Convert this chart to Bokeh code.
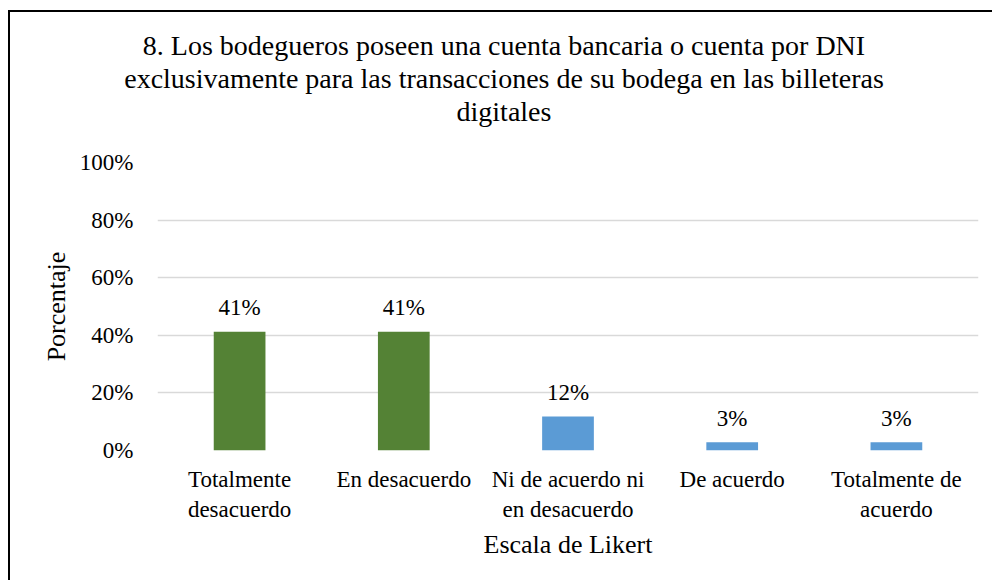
from bokeh.plotting import figure
from bokeh.models import (FactorRange, Range1d, FixedTicker, PrintfTickFormatter,
                          ColumnDataSource, LabelSet, Title)
from bokeh.core.properties import value
from bokeh.embed import file_html
from bokeh.resources import INLINE

# ---- data ----
categories = ["Totalmente\ndesacuerdo", "En desacuerdo", "Ni de acuerdo ni\nen desacuerdo",
              "De acuerdo", "Totalmente de\nacuerdo"]
percentages = [41.2, 41.2, 11.8, 2.9, 2.9]
bar_colors = ["#548235", "#548235", "#5B9BD5", "#5B9BD5", "#5B9BD5"]
y_ticks = [0, 20, 40, 60, 80, 100]
title_lines = ["8. Los bodegueros poseen una cuenta bancaria o cuenta por DNI",
               "exclusivamente para las transacciones de su bodega en las billeteras",
               "digitales"]
x_title = "Escala de Likert"
y_title = "Porcentaje"

FONT = "Liberation Serif"

src = ColumnDataSource(dict(
    cat=categories,
    pct=percentages,
    color=bar_colors,
    lbl=[f"{round(v)}%" for v in percentages],
))

p = figure(x_range=FactorRange(factors=categories, range_padding=0),
           y_range=Range1d(0, 100),
           width=984, height=570,
           output_backend="svg", toolbar_location=None,
           min_border_left=147, min_border_right=16,
           min_border_top=150, min_border_bottom=132)
p.styles = {"border-top": "2px solid black", "border-left": "2px solid black",
            "margin-top": "10px", "margin-left": "8px"}

p.background_fill_color = "white"
p.border_fill_color = "white"
p.outline_line_color = None

p.vbar(x="cat", top="pct", width=0.315, fill_color="color", line_color=None, source=src)

labels = LabelSet(x="cat", y="pct", text="lbl", source=src, y_offset=24,
                  text_align="center", text_baseline="middle",
                  text_font=value(FONT), text_font_size=value("23px"), text_color="black")
p.add_layout(labels)

# title: one Title per line, stacked above the frame (closest line first)
def make_title(txt, standoff, pad_bottom=0):
    return Title(text=txt, align="center", standoff=standoff,
                 padding=dict(left=0, right=128, top=0, bottom=pad_bottom),
                 text_font=FONT, text_font_size="28px", text_font_style="normal",
                 text_color="black")

p.title = make_title(title_lines[0], 0)
p.add_layout(make_title(title_lines[2], 0, pad_bottom=36), "above")
p.add_layout(make_title(title_lines[1], 0), "above")

# grid
p.xgrid.visible = False
p.ygrid.grid_line_color = "#d9d9d9"
p.ygrid.grid_line_width = 1.3

# y axis
p.yaxis.ticker = FixedTicker(ticks=y_ticks)
p.yaxis.formatter = PrintfTickFormatter(format="%d%%")
p.yaxis.axis_line_color = None
p.yaxis.major_tick_line_color = None
p.yaxis.minor_tick_line_color = None
p.yaxis.major_label_text_font = FONT
p.yaxis.major_label_text_font_size = "23px"
p.yaxis.major_label_text_color = "black"
p.yaxis.major_label_standoff = 18
p.yaxis.axis_label = y_title
p.yaxis.axis_label_text_font = FONT
p.yaxis.axis_label_text_font_size = "26px"
p.yaxis.axis_label_text_font_style = "normal"
p.yaxis.axis_label_text_color = "black"
p.yaxis.axis_label_standoff = 6

# x axis
p.xaxis.axis_line_color = None
p.xaxis.major_tick_line_color = None
p.xaxis.minor_tick_line_color = None
p.xaxis.major_label_text_font = FONT
p.xaxis.major_label_text_font_size = "23px"
p.xaxis.major_label_text_color = "black"
p.xaxis.major_label_text_line_height = 1.2
p.xaxis.major_label_standoff = 10
p.xaxis.axis_label = x_title
p.xaxis.axis_label_text_font = FONT
p.xaxis.axis_label_text_font_size = "26px"
p.xaxis.axis_label_text_font_style = "normal"
p.xaxis.axis_label_text_color = "black"
p.xaxis.axis_label_standoff = 5

open("out.html", "w").write(file_html(p, INLINE))
